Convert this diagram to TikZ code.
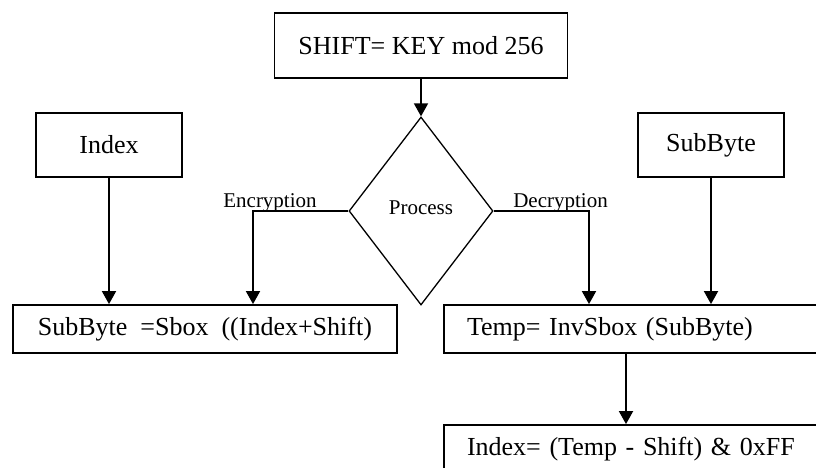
\documentclass[tikz,border=0pt]{standalone}
\usepackage{fontspec}
\setmainfont{Liberation Serif}
\usetikzlibrary{shapes.geometric,arrows.meta}
\begin{document}
\begin{tikzpicture}[x=1pt,y=-1pt,
  box/.style={draw, line width=1.8pt, rectangle, inner sep=0pt, font=\fontsize{26}{30}\selectfont},
  lbl/.style={inner sep=0pt, font=\fontsize{21}{25}\selectfont},
  arr/.style={line width=1.8pt, -{Triangle[width=14pt,length=13pt]}},
  dia/.style={draw, diamond, line width=1.3pt, inner sep=0pt, font=\fontsize{21}{25}\selectfont}]
\clip (0,0) rectangle (816,468);
\node[box, minimum width=293pt, minimum height=65pt] (shift) at (421,45.4) {SHIFT= KEY mod 256};
\node[box, minimum width=146pt, minimum height=64pt] (index) at (109,145) {Index};
\node[box, minimum width=146pt, minimum height=64pt] (subbyte) at (711,145) {SubByte};
\node[dia, minimum width=144pt, minimum height=188pt, text depth=6pt] (proc) at (421,211) {Process};
\node[box, minimum width=384pt, minimum height=48pt] (lbox) at (204.9,329) {SubByte\ \ =Sbox\ \ ((Index+Shift)};
\node[box, minimum width=386pt, minimum height=48pt, text width=340pt, inner xsep=23pt, align=left] (rbox) at (637,329) {Temp= InvSbox (SubByte)};
\node[box, minimum width=386pt, minimum height=48pt, text width=340pt, inner xsep=23pt, align=left] (bbox) at (637,449) {Index= (Temp - Shift) \& 0xFF};
\node[lbl, anchor=base] (enc) at (270,207) {Encryption};
\node[lbl, anchor=base] (dec) at (560.5,207) {Decryption};
\coordinate (encx) at (253,0);
\coordinate (decx) at (589,0);
\coordinate (tx) at (626,0);
\draw[arr] (shift.south) -- (proc.north);
\draw[arr] (proc.west) -| (encx |- lbox.north);
\draw[arr] (proc.east) -| (decx |- rbox.north);
\draw[arr] (index.south) -- (index.south |- lbox.north);
\draw[arr] (subbyte.south) -- (subbyte.south |- rbox.north);
\draw[arr] (tx |- rbox.south) -- (tx |- bbox.north);
\end{tikzpicture}
\end{document}
